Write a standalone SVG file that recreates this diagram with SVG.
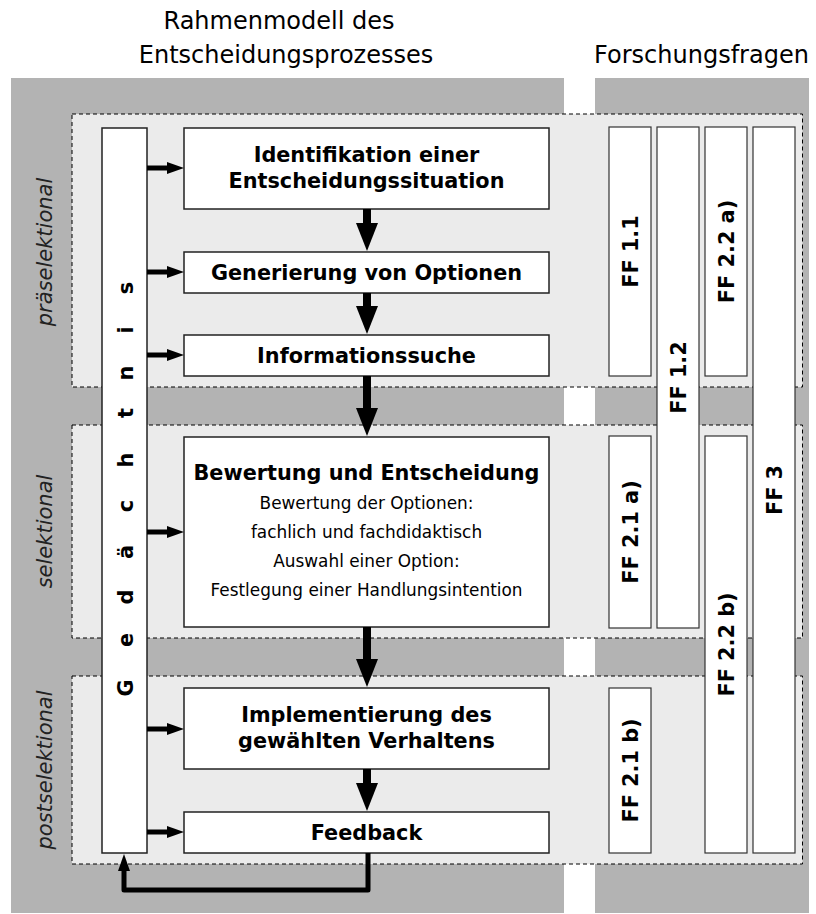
<svg xmlns="http://www.w3.org/2000/svg" width="816" height="914" viewBox="0 0 816 914">
<style>
text{font-family:"DejaVu Sans",Verdana,sans-serif;fill:#000}
.h{font-size:24px}
.b{font-size:20.8px;font-weight:bold;text-anchor:middle}
.s{font-size:16.9px;text-anchor:middle}
.side{font-size:21px;font-style:italic;font-weight:200;text-anchor:middle;fill:#222}
.panel{fill:#b3b3b3}
.band{fill:#ebebeb;stroke:#000;stroke-width:1;stroke-dasharray:4 3}
.box{fill:#fff;stroke:#222;stroke-width:1.5}
.ff{fill:#fff;stroke:#333;stroke-width:1.2}
.big{stroke:#000;stroke-width:8;fill:none}
.sm{stroke:#000;stroke-width:5;fill:none}
</style>
<defs>
<marker id="hb" markerUnits="userSpaceOnUse" markerWidth="28" markerHeight="22" refX="1" refY="11" orient="auto"><path d="M0,0 L28,11 L0,22 z" fill="#000"/></marker>
<marker id="hs" markerUnits="userSpaceOnUse" markerWidth="17" markerHeight="12" refX="1" refY="6" orient="auto"><path d="M0,0 L17,6 L0,12 z" fill="#000"/></marker>
</defs>
<g id="background">
<rect class="panel" x="11" y="78" width="553" height="835"/>
<rect class="panel" x="595" y="78" width="214" height="835"/>
<rect id="band-praeselektional" class="band" x="72" y="114" width="730.5" height="273"/>
<rect id="band-selektional" class="band" x="72" y="425" width="730.5" height="213"/>
<rect id="band-postselektional" class="band" x="72" y="676" width="730.5" height="188"/>
</g>
<g id="headings">
<text class="h" x="279" y="29" text-anchor="middle">Rahmenmodell des</text>
<text class="h" x="286" y="63" text-anchor="middle">Entscheidungsprozesses</text>
<text class="h" x="701.5" y="63" text-anchor="middle">Forschungsfragen</text>
</g>
<g id="phase-labels">
<text class="side" transform="rotate(-90)" x="-252" y="52">präselektional</text>
<text class="side" transform="rotate(-90)" x="-531.5" y="52">selektional</text>
<text class="side" transform="rotate(-90)" x="-770" y="52">postselektional</text>
</g>
<g id="gedaechtnis">
<rect class="box" x="102" y="128" width="45" height="725"/>
<text class="b" transform="rotate(-90)" x="-688 -640 -597 -552 -506 -460 -413 -373 -330 -288" y="133">Gedächtnis</text>
</g>
<g id="identifikation">
<rect class="box" x="184" y="128" width="365" height="81"/>
<text class="b" x="366.5" y="161.5">Identifikation einer</text>
<text class="b" x="366.5" y="187.5">Entscheidungssituation</text>
</g>
<g id="generierung">
<rect class="box" x="184" y="252" width="365" height="41"/>
<text class="b" x="366.5" y="279.5">Generierung von Optionen</text>
</g>
<g id="informationssuche">
<rect class="box" x="184" y="335" width="365" height="41"/>
<text class="b" x="366.5" y="362.5">Informationssuche</text>
</g>
<g id="bewertung">
<rect class="box" x="184" y="437" width="365" height="190"/>
<text class="b" x="366.5" y="480">Bewertung und Entscheidung</text>
<text class="s" x="366.5" y="509">Bewertung der Optionen:</text>
<text class="s" x="366.5" y="538">fachlich und fachdidaktisch</text>
<text class="s" x="366.5" y="567">Auswahl einer Option:</text>
<text class="s" x="366.5" y="596">Festlegung einer Handlungsintention</text>
</g>
<g id="implementierung">
<rect class="box" x="184" y="688" width="365" height="81"/>
<text class="b" x="366.5" y="722">Implementierung des</text>
<text class="b" x="366.5" y="748">gewählten Verhaltens</text>
</g>
<g id="feedback">
<rect class="box" x="184" y="812" width="365" height="41"/>
<text class="b" x="366.5" y="839.5">Feedback</text>
</g>
<g id="ff-1-1"><rect class="ff" x="609" y="127" width="42" height="249"/><text class="b" transform="rotate(-90)" x="-251.5" y="638">FF 1.1</text></g>
<g id="ff-1-2"><rect class="ff" x="657" y="127" width="42" height="501"/><text class="b" transform="rotate(-90)" x="-377.5" y="686">FF 1.2</text></g>
<g id="ff-2-2-a"><rect class="ff" x="705" y="127" width="42" height="249"/><text class="b" transform="rotate(-90)" x="-251.5" y="734">FF 2.2 a)</text></g>
<g id="ff-3"><rect class="ff" x="753" y="127" width="42" height="726"/><text class="b" transform="rotate(-90)" x="-490" y="782">FF 3</text></g>
<g id="ff-2-1-a"><rect class="ff" x="609" y="436" width="42" height="192"/><text class="b" transform="rotate(-90)" x="-532" y="638">FF 2.1 a)</text></g>
<g id="ff-2-2-b"><rect class="ff" x="705" y="436" width="42" height="417"/><text class="b" transform="rotate(-90)" x="-644.5" y="734">FF 2.2 b)</text></g>
<g id="ff-2-1-b"><rect class="ff" x="609" y="688" width="42" height="165"/><text class="b" transform="rotate(-90)" x="-770.5" y="638">FF 2.1 b)</text></g>
<g id="connectors">
<line class="big" x1="367" y1="209" x2="367" y2="224" marker-end="url(#hb)"/>
<line class="big" x1="367" y1="293" x2="367" y2="307" marker-end="url(#hb)"/>
<line class="big" x1="367" y1="376" x2="367" y2="409" marker-end="url(#hb)"/>
<line class="big" x1="367" y1="627" x2="367" y2="660" marker-end="url(#hb)"/>
<line class="big" x1="367" y1="769" x2="367" y2="784" marker-end="url(#hb)"/>
<line class="sm" x1="147" y1="168" x2="168" y2="168" marker-end="url(#hs)"/>
<line class="sm" x1="147" y1="272" x2="168" y2="272" marker-end="url(#hs)"/>
<line class="sm" x1="147" y1="355" x2="168" y2="355" marker-end="url(#hs)"/>
<line class="sm" x1="147" y1="532" x2="168" y2="532" marker-end="url(#hs)"/>
<line class="sm" x1="147" y1="729" x2="168" y2="729" marker-end="url(#hs)"/>
<line class="sm" x1="147" y1="832" x2="168" y2="832" marker-end="url(#hs)"/>
<path class="sm" d="M368,853 L368,890 L124,890 L124,870" stroke-linejoin="round" marker-end="url(#hs)"/>
</g>
</svg>
